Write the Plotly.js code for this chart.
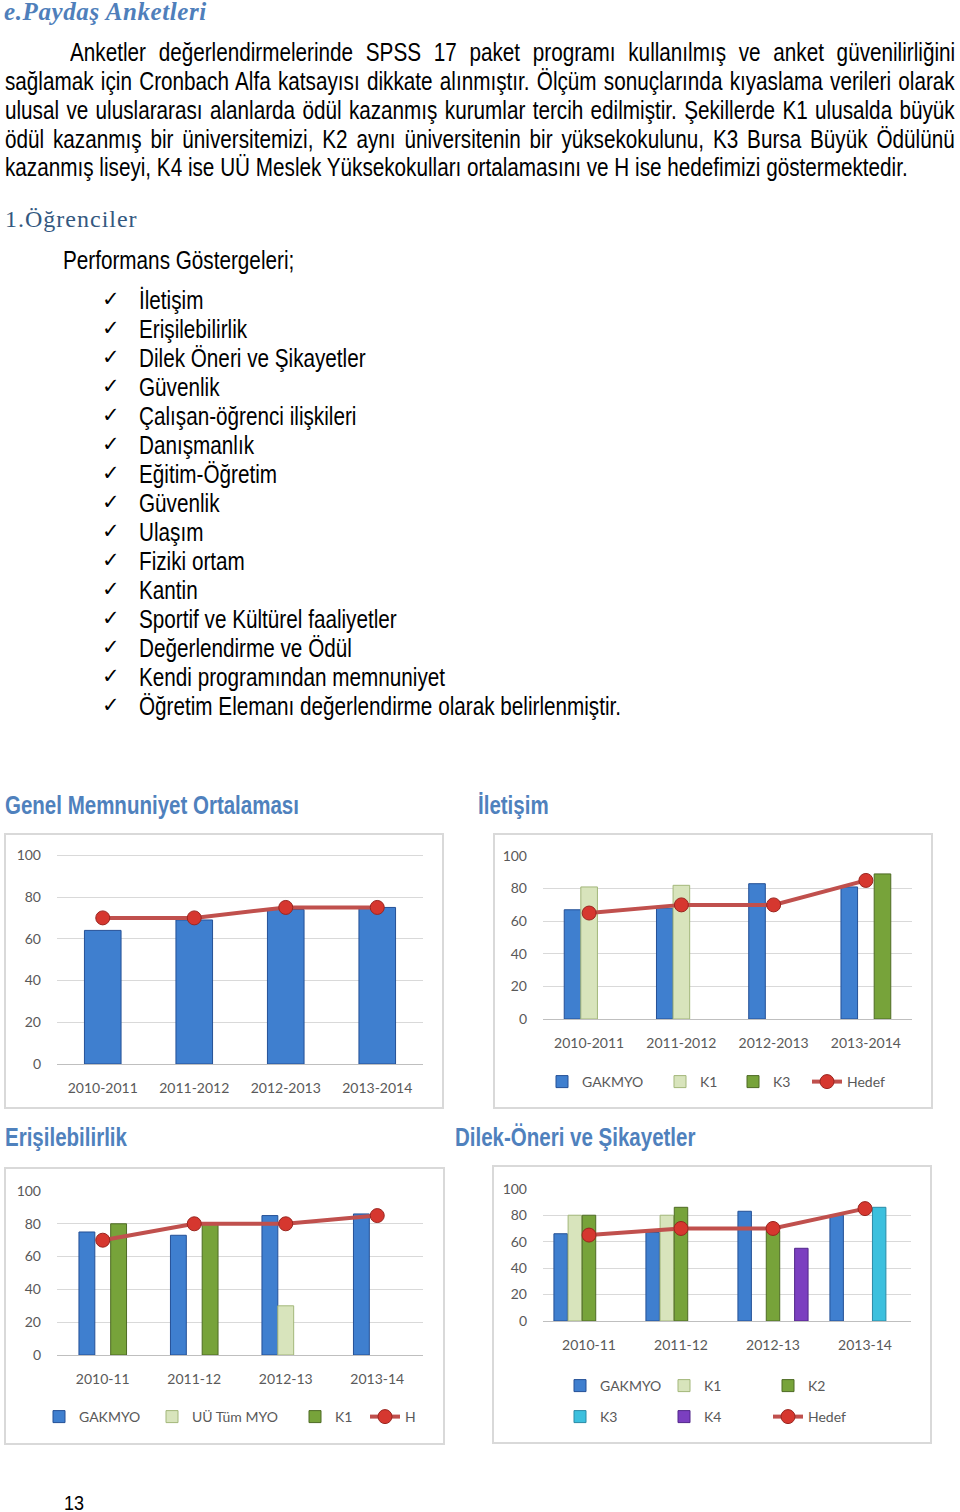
<!DOCTYPE html>
<html><head><meta charset="utf-8">
<script src="https://cdn.plot.ly/plotly-3.0.1.min.js"></script>
<style>
body{margin:0;background:#fff;width:960px;height:1512px;position:relative;overflow:hidden;}
.t{position:absolute;white-space:nowrap;font-family:'Liberation Sans',Arial,sans-serif;color:#000;transform-origin:0 0;}
.n{font-size:25px;line-height:29px;transform:scaleX(0.828);}
.j{white-space:normal;text-align:justify;text-align-last:justify;}
.ck{position:absolute;font-family:'DejaVu Sans',sans-serif;font-size:21px;line-height:29px;color:#000;}
.ct{font-size:25px;line-height:29px;font-weight:bold;color:#4f81bd;transform:scaleX(0.82);}
.box{position:absolute;border:2px solid #d9d9d9;box-sizing:border-box;}
.ch{position:absolute;}
</style></head><body>

<div class="t" style="left:4px;top:-3px;font-family:'Liberation Serif',serif;font-style:italic;font-weight:bold;font-size:25px;letter-spacing:0.6px;color:#4f7fbb;line-height:30px;">e.Paydaş Anketleri</div>

<div class="t n j" style="left:70px;top:38px;width:1069px;">Anketler değerlendirmelerinde SPSS 17 paket programı kullanılmış ve  anket güvenilirliğini</div>
<div class="t n j" style="left:5px;top:67px;width:1147px;">sağlamak  için Cronbach  Alfa katsayısı dikkate alınmıştır. Ölçüm sonuçlarında  kıyaslama verileri olarak</div>
<div class="t n j" style="left:5px;top:96px;width:1147px;">ulusal ve uluslararası alanlarda ödül kazanmış kurumlar tercih edilmiştir. Şekillerde  K1 ulusalda büyük</div>
<div class="t n j" style="left:5px;top:125px;width:1147px;">ödül kazanmış bir üniversitemizi, K2 aynı üniversitenin bir yüksekokulunu, K3 Bursa Büyük Ödülünü</div>
<div class="t n" style="left:5px;top:153px;">kazanmış liseyi, K4 ise UÜ Meslek Yüksekokulları ortalamasını ve H ise hedefimizi göstermektedir.</div>

<div class="t" style="left:5px;top:204px;font-family:'Liberation Serif',serif;font-size:24px;letter-spacing:1px;color:#34587f;line-height:30px;">1.Öğrenciler</div>

<div class="t n" style="left:63px;top:246px;">Performans Göstergeleri;</div>

<div id="list"></div>

<div class="t ct" style="left:5px;top:791px;">Genel Memnuniyet Ortalaması</div>
<div class="t ct" style="left:478px;top:791px;">İletişim</div>
<div class="t ct" style="left:5px;top:1123px;">Erişilebilirlik</div>
<div class="t ct" style="left:455px;top:1123px;">Dilek-Öneri ve Şikayetler</div>

<div class="box" style="left:4px;top:833px;width:440px;height:276px;"></div>
<div class="box" style="left:493px;top:833px;width:440px;height:276px;"></div>
<div class="box" style="left:4px;top:1167px;width:441px;height:278px;"></div>
<div class="box" style="left:492px;top:1165px;width:440px;height:279px;"></div>

<div id="c1" class="ch"></div>
<div id="c2" class="ch"></div>
<div id="c3" class="ch"></div>
<div id="c4" class="ch"></div>

<div class="t" style="left:64px;top:1491px;font-size:20px;line-height:24px;transform:scaleX(0.9);">13</div>

<script>
// ---------- text data ----------
const listItems = ['İletişim','Erişilebilirlik','Dilek Öneri ve Şikayetler','Güvenlik','Çalışan-öğrenci ilişkileri','Danışmanlık','Eğitim-Öğretim','Güvenlik','Ulaşım','Fiziki ortam','Kantin','Sportif ve Kültürel faaliyetler','Değerlendirme ve Ödül','Kendi programından memnuniyet','Öğretim Elemanı değerlendirme olarak belirlenmiştir.'];

// ---------- chart data ----------
const yearsLong = ['2010-2011','2011-2012','2012-2013','2013-2014'];
const yearsShort = ['2010-11','2011-12','2012-13','2013-14'];

// Genel Memnuniyet Ortalaması
const genelGAKMYO = [64, 69, 74, 75];
const genelHedef = [70, 70, 75, 75];

// İletişim
const iletisimGAKMYO = [67, 68, 83, 81];
const iletisimK1 = [81, 82, null, null];
const iletisimK3 = [null, null, null, 89];
const iletisimHedef = [65, 70, 70, 85];

// Erişilebilirlik
const erisGAKMYO = [75, 73, 85, 86];
const erisUuTumMYO = [null, null, 30, null];
const erisK1 = [80, 80, null, null];
const erisH = [70, 80, 80, 85];

// Dilek-Öneri ve Şikayetler
const dilekGAKMYO = [66, 67, 83, 80];
const dilekK1 = [80, 80, null, null];
const dilekK2 = [80, 86, 68, null];
const dilekK3 = [null, null, null, 86];
const dilekK4 = [null, null, 55, null];
const dilekHedef = [65, 70, 70, 85];

// ---------- list ----------
const listEl = document.getElementById('list');
listItems.forEach((s, i) => {
  const y = 286 + 29 * i;
  const c = document.createElement('div');
  c.className = 'ck'; c.style.left = '102px'; c.style.top = (y - 1) + 'px'; c.textContent = '✓';
  listEl.appendChild(c);
  const d = document.createElement('div');
  d.className = 't n'; d.style.left = '139px'; d.style.top = y + 'px'; d.textContent = s;
  listEl.appendChild(d);
});

// ---------- styles ----------
const COL = {
  blue: {fill: '#3f7fcf', line: '#245096'},
  pale: {fill: '#d8e4bc', line: '#a3b77a'},
  green: {fill: '#77a33a', line: '#4e6b24'},
  cyan: {fill: '#3cc0de', line: '#2a8aa6'},
  purple: {fill: '#7b3fc0', line: '#52278a'}
};
const FONT = "Lato, 'Open Sans', sans-serif";

function bar(name, x, y, c, legend) {
  return {type: 'bar', name: name, x: x, y: y, legend: legend,
    marker: {color: c.fill, line: {color: c.line, width: 1}}};
}
function target(name, x, y, legend) {
  return {type: 'scatter', mode: 'lines+markers', name: name, x: x, y: y, legend: legend,
    line: {color: '#c0504d', width: 4},
    marker: {size: 14, color: '#d6372f', line: {color: '#9a2620', width: 1}}};
}

function draw(id, box, plot, traces, legendItems, bargap, bargroupgap) {
  const el = document.getElementById(id);
  el.style.left = box.left + 'px'; el.style.top = box.top + 'px';
  el.style.width = box.w + 'px'; el.style.height = box.h + 'px';
  const pw = plot.x1 - plot.x0, ph = plot.y0 - plot.y100;
  const layout = {
    width: box.w, height: box.h,
    margin: {l: plot.x0 - box.left, r: box.left + box.w - plot.x1, t: plot.y100 - box.top, b: box.top + box.h - plot.y0, pad: 0},
    paper_bgcolor: 'rgba(0,0,0,0)', plot_bgcolor: 'rgba(0,0,0,0)',
    barmode: 'group', bargap: bargap, bargroupgap: bargroupgap,
    font: {family: FONT, size: 14, color: '#595959'},
    xaxis: {type: 'category', showline: true, linecolor: '#bfbfbf', linewidth: 1, ticks: '', showgrid: false,
      tickfont: {family: FONT, size: 14, color: '#595959'}, ticklabelstandoff: 11, fixedrange: true},
    yaxis: {range: [0, 100.6], dtick: 20, tick0: 0, showline: false, zeroline: false, ticks: '',
      gridcolor: '#d9d9d9', gridwidth: 1, tickfont: {family: FONT, size: 14, color: '#595959'},
      ticklabelstandoff: 15, fixedrange: true},
    showlegend: legendItems.length > 0
  };
  legendItems.forEach((L, i) => {
    const key = i === 0 ? 'legend' : 'legend' + (i + 1);
    layout[key] = {orientation: 'h', x: (L.x - plot.x0) / pw, y: (plot.y0 - L.y) / ph,
      xanchor: 'left', yanchor: 'middle', bgcolor: 'rgba(0,0,0,0)', borderwidth: 0,
      font: {family: FONT, size: 14, color: '#595959'}, traceorder: 'normal'};
  });
  Plotly.newPlot(el, traces, layout, {staticPlot: true, displayModeBar: false});
}

// Chart 1
draw('c1', {left: 4, top: 833, w: 440, h: 276}, {x0: 57, x1: 423, y100: 854, y0: 1064},
  [Object.assign(bar('GAKMYO', yearsLong, genelGAKMYO, COL.blue), {showlegend: false}),
   Object.assign(target('Hedef', yearsLong, genelHedef), {showlegend: false})],
  [], 0.6, 0);

// Chart 2
draw('c2', {left: 493, top: 833, w: 440, h: 276}, {x0: 543, x1: 912, y100: 855, y0: 1020},
  [bar('GAKMYO', yearsLong, iletisimGAKMYO, COL.blue, 'legend'),
   bar('K1', yearsLong, iletisimK1, COL.pale, 'legend2'),
   bar('K3', yearsLong, iletisimK3, COL.green, 'legend3'),
   target('Hedef', yearsLong, iletisimHedef, 'legend4')],
  [{x: 542, y: 1082}, {x: 660, y: 1082}, {x: 733, y: 1082}, {x: 807, y: 1082}], 0.46, 0);

// Chart 3
draw('c3', {left: 4, top: 1167, w: 441, h: 278}, {x0: 57, x1: 423, y100: 1190, y0: 1355},
  [bar('GAKMYO', yearsShort, erisGAKMYO, COL.blue, 'legend'),
   bar('UÜ Tüm MYO', yearsShort, erisUuTumMYO, COL.pale, 'legend2'),
   bar('K1', yearsShort, erisK1, COL.green, 'legend3'),
   target('H', yearsShort, erisH, 'legend4')],
  [{x: 39, y: 1417}, {x: 152, y: 1417}, {x: 295, y: 1417}, {x: 365, y: 1417}], 0.48, 0);

// Chart 4
draw('c4', {left: 492, top: 1165, w: 440, h: 279}, {x0: 543, x1: 911, y100: 1188, y0: 1322},
  [bar('GAKMYO', yearsShort, dilekGAKMYO, COL.blue, 'legend'),
   bar('K1', yearsShort, dilekK1, COL.pale, 'legend2'),
   bar('K2', yearsShort, dilekK2, COL.green, 'legend3'),
   bar('K3', yearsShort, dilekK3, COL.cyan, 'legend4'),
   bar('K4', yearsShort, dilekK4, COL.purple, 'legend5'),
   target('Hedef', yearsShort, dilekHedef, 'legend6')],
  [{x: 560, y: 1386}, {x: 664, y: 1386}, {x: 768, y: 1386}, {x: 560, y: 1417}, {x: 664, y: 1417}, {x: 768, y: 1417}], 0.23, 0.05);
</script>
</body></html>
